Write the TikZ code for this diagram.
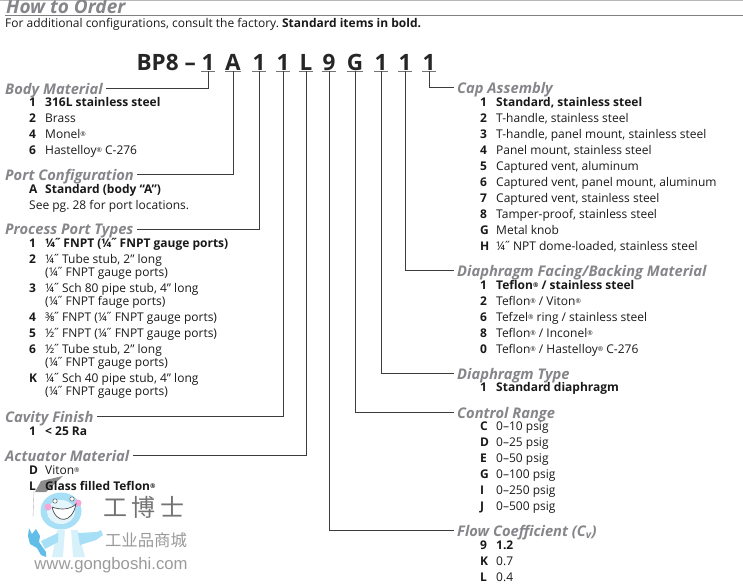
\documentclass[tikz,border=0pt]{standalone}
\usepackage{fontspec}
\setmainfont{Open Sans}
\newfontfamily\cjkfont{Noto Sans CJK SC}
\newfontfamily\urlfont{Liberation Sans}
\usetikzlibrary{positioning}
\frenchspacing

\definecolor{headgray}{HTML}{85858A}
\definecolor{linegray}{HTML}{3C3C3C}
\definecolor{markgray}{HTML}{9A9A9A}
\definecolor{mascotblue}{HTML}{A6DFF6}
\definecolor{wrenchblue}{HTML}{62BEE8}

\newcommand{\rowfont}{\fontsize{12}{13}\selectfont}
\newcommand{\itemkey}[1]{\makebox[16pt][l]{\bfseries #1}}
\newcommand{\regmark}{\raisebox{2.5pt}{\fontsize{6.5}{6.5}\selectfont ®}}
\newcommand{\inchmark}{\kern-1.5pt˝\kern-1pt}

\tikzset{
    row/.style={anchor=west,inner sep=0pt,text height=9.5pt,text depth=0pt,text=black!90,font=\rowfont},
    boldrow/.style={row,font=\rowfont\bfseries},
    nextrow/.style={below=16pt of #1.west,anchor=west},
    wraprow/.style={below=13pt of #1.west,anchor=west},
    head/.style={anchor=west,inner sep=0pt,text height=11pt,text depth=0pt,text=headgray,
        font=\fontsize{14.7}{15}\selectfont\bfseries\itshape},
    codeletter/.style={anchor=south,inner sep=0pt,minimum width=13pt,text height=16pt,text depth=0pt,
        font=\fontsize{22.5}{23}\selectfont\bfseries,text=black!85},
    conn/.style={draw=linegray,line width=0.9pt,shorten >=3pt},
    uline/.style={draw=black!55,line width=1pt}
}

\begin{document}
\begin{tikzpicture}[x=1pt,y=-1pt]
    \useasboundingbox (0,0) rectangle (743,584);

    % page head
    \draw[draw=black!28,line width=1pt] (0,0.5) -- (743,0.5);
    \draw[draw=black!50,line width=1.4pt] (5,15.5) -- (743,15.5);
    \node[anchor=base west,inner sep=0pt,text=headgray,font=\fontsize{19}{19}\selectfont\bfseries\itshape] (title) at (6,13) {How to Order};
    \node[row] (intro) at (5,23) {For additional configurations, consult the factory. \textbf{Standard items in bold.}};

    % mascot, drawn directly
    \fill[black!45] (35,492) -- (41,481) -- (63,476) -- (46,492) -- cycle;
    \draw[black!30,line width=0.4pt] (34,490) -- (33,517);
    \fill[mascotblue] (61,511) ellipse (20.5 and 18.5);
    \fill[mascotblue!30] (61,512) ellipse (14 and 12);
    \fill[mascotblue!45] (57,530) -- (78,530) -- (85,557) -- (52,557) -- cycle;
    \fill[white] (65,530) -- (71,530) -- (73,557) -- (63,557) -- cycle;
    \fill[mascotblue] (58,533) -- (41,541) -- (45,549) -- (58,542) -- cycle;
    \fill[mascotblue] (78,533) -- (97,532) -- (101,530) -- (103,535) -- (96,540) -- (80,545) -- cycle;
    \fill[wrenchblue] (29,528) -- (32,534) -- (36,529) -- (40,536) -- (39,542) -- (46,552) -- (46,557) -- (41,555) -- (37,548) -- (30,544) -- (28,536) -- cycle;
    \draw[black!65,fill=white,line width=0.5pt] (55,501) circle (2.2) (72,499) circle (2.2);
    \fill[magenta!35] (48,507) circle (3.5) (78,503) circle (3.5);
    \draw[black!70,fill=white,line width=0.7pt] (52,507) .. controls (56,524) and (72,524) .. (76,504) .. controls (70,510) and (60,510) .. (52,507);
    \node[inner sep=0pt,text=black!55,font=\cjkfont\fontsize{24}{24}\selectfont] (brand) at (144,507) {工\hspace{5pt}博\hspace{5pt}士};
    \node[inner sep=0pt,text=markgray,font=\cjkfont\fontsize{16.4}{17}\selectfont] (shop) at (146,540) {工业品商城};
    \node[inner sep=0pt,text=markgray,font=\urlfont\fontsize{16.7}{17}\selectfont] (site) at (111,565) {www.gongboshi.com};

    % order code
    \node[anchor=south east,inner sep=0pt,text height=16pt,text depth=0pt,text=black!85,
        font=\fontsize{22.5}{23}\selectfont\bfseries] (code) at (196,71) {BP8 –};
    \node[codeletter] (c1) at (208,71) {1};
    \node[codeletter] (c2) at (233,71) {A};
    \node[codeletter] (c3) at (259,71) {1};
    \node[codeletter] (c4) at (283,71) {1};
    \node[codeletter] (c5) at (306,71) {L};
    \node[codeletter] (c6) at (329,71) {9};
    \node[codeletter] (c7) at (355,71) {G};
    \node[codeletter] (c8) at (381,71) {1};
    \node[codeletter] (c9) at (405,71) {1};
    \node[codeletter] (c10) at (429,71) {1};
    \draw[uline] (c1.south west) -- (c1.south east);
    \draw[uline] (c2.south west) -- (c2.south east);
    \draw[uline] (c3.south west) -- (c3.south east);
    \draw[uline] (c4.south west) -- (c4.south east);
    \draw[uline] (c5.south west) -- (c5.south east);
    \draw[uline] (c6.south west) -- (c6.south east);
    \draw[uline] (c7.south west) -- (c7.south east);
    \draw[uline] (c8.south west) -- (c8.south east);
    \draw[uline] (c9.south west) -- (c9.south east);
    \draw[uline] (c10.south west) -- (c10.south east);

    % left column
    \node[head] (body) at (5,88.5) {Body Material};
    \node[boldrow] (body1) at (29,102) {\itemkey{1}316L stainless steel};
    \node[row,nextrow=body1] (body2) {\itemkey{2}Brass};
    \node[row,nextrow=body2] (body4) {\itemkey{4}Monel\regmark};
    \node[row,nextrow=body4] (body6) {\itemkey{6}Hastelloy\regmark{} C-276};

    \node[head] (port) at (5,174.5) {Port Configuration};
    \node[boldrow] (portA) at (29,189) {\itemkey{A}Standard (body “A”)};
    \node[row,nextrow=portA] (portnote) {See pg. 28 for port locations.};

    \node[head] (ptype) at (5,229) {Process Port Types};
    \node[boldrow] (ptype1) at (29,243) {\itemkey{1}¼\inchmark{} FNPT (¼\inchmark{} FNPT gauge ports)};
    \node[row,nextrow=ptype1] (ptype2) {\itemkey{2}¼\inchmark{} Tube stub, 2” long};
    \node[row,wraprow=ptype2] (ptype2b) {\itemkey{}(¼\inchmark{} FNPT gauge ports)};
    \node[row,nextrow=ptype2b] (ptype3) {\itemkey{3}¼\inchmark{} Sch 80 pipe stub, 4” long};
    \node[row,wraprow=ptype3] (ptype3b) {\itemkey{}(¼\inchmark{} FNPT fauge ports)};
    \node[row,nextrow=ptype3b] (ptype4) {\itemkey{4}⅜\inchmark{} FNPT (¼\inchmark{} FNPT gauge ports)};
    \node[row,nextrow=ptype4] (ptype5) {\itemkey{5}½\inchmark{} FNPT (¼\inchmark{} FNPT gauge ports)};
    \node[row,nextrow=ptype5] (ptype6) {\itemkey{6}½\inchmark{} Tube stub, 2” long};
    \node[row,wraprow=ptype6] (ptype6b) {\itemkey{}(¼\inchmark{} FNPT gauge ports)};
    \node[row,nextrow=ptype6b] (ptypeK) {\itemkey{K}¼\inchmark{} Sch 40 pipe stub, 4” long};
    \node[row,wraprow=ptypeK] (ptypeKb) {\itemkey{}(¼\inchmark{} FNPT gauge ports)};

    \node[head] (cavity) at (5,416.5) {Cavity Finish};
    \node[boldrow] (cavity1) at (29,431) {\itemkey{1}< 25 Ra};

    \node[head] (actuator) at (5,455.5) {Actuator Material};
    \node[row] (actD) at (29,470) {\itemkey{D}Viton\regmark};
    \node[boldrow,nextrow=actD] (actL) {\itemkey{L}Glass filled Teflon\regmark};

    % right column
    \node[head] (cap) at (457,87.5) {Cap Assembly};
    \node[boldrow] (cap1) at (480,102) {\itemkey{1}Standard, stainless steel};
    \node[row,nextrow=cap1] (cap2) {\itemkey{2}T-handle, stainless steel};
    \node[row,nextrow=cap2] (cap3) {\itemkey{3}T-handle, panel mount, stainless steel};
    \node[row,nextrow=cap3] (cap4) {\itemkey{4}Panel mount, stainless steel};
    \node[row,nextrow=cap4] (cap5) {\itemkey{5}Captured vent, aluminum};
    \node[row,nextrow=cap5] (cap6) {\itemkey{6}Captured vent, panel mount, aluminum};
    \node[row,nextrow=cap6] (cap7) {\itemkey{7}Captured vent, stainless steel};
    \node[row,nextrow=cap7] (cap8) {\itemkey{8}Tamper-proof, stainless steel};
    \node[row,nextrow=cap8] (capG) {\itemkey{G}Metal knob};
    \node[row,nextrow=capG] (capH) {\itemkey{H}¼\inchmark{} NPT dome-loaded, stainless steel};

    \node[head] (facing) at (457,270.5) {Diaphragm Facing/Backing Material};
    \node[boldrow] (facing1) at (480,285) {\itemkey{1}Teflon\regmark{} / stainless steel};
    \node[row,nextrow=facing1] (facing2) {\itemkey{2}Teflon\regmark{} / Viton\regmark};
    \node[row,nextrow=facing2] (facing6) {\itemkey{6}Tefzel\regmark{} ring / stainless steel};
    \node[row,nextrow=facing6] (facing8) {\itemkey{8}Teflon\regmark{} / Inconel\regmark};
    \node[row,nextrow=facing8] (facing0) {\itemkey{0}Teflon\regmark{} / Hastelloy\regmark{} C-276};

    \node[head] (dtype) at (457,373.5) {Diaphragm Type};
    \node[boldrow] (dtype1) at (480,387) {\itemkey{1}Standard diaphragm};

    \node[head] (range) at (457,412.5) {Control Range};
    \node[row] (rangeC) at (480,426) {\itemkey{C}0–10 psig};
    \node[row,nextrow=rangeC] (rangeD) {\itemkey{D}0–25 psig};
    \node[row,nextrow=rangeD] (rangeE) {\itemkey{E}0–50 psig};
    \node[row,nextrow=rangeE] (rangeG) {\itemkey{G}0–100 psig};
    \node[row,nextrow=rangeG] (rangeI) {\itemkey{I}0–250 psig};
    \node[row,nextrow=rangeI] (rangeJ) {\itemkey{J}0–500 psig};

    \node[head] (flow) at (457,530.5) {Flow Coefficient (C\textsubscript{v})};
    \node[boldrow] (flow9) at (480,545) {\itemkey{9}1.2};
    \node[row,nextrow=flow9] (flowK) {\itemkey{K}0.7};
    \node[row,nextrow=flowK] (flowL) {\itemkey{L}0.4};

    % connectors
    \draw[conn] (c1.south) |- (body.east);
    \draw[conn] (c2.south) |- (port.east);
    \draw[conn] (c3.south) |- (ptype.east);
    \draw[conn] (c4.south) |- (cavity.east);
    \draw[conn] (c5.south) |- (actuator.east);
    \draw[conn] (c6.south) |- (flow.west);
    \draw[conn] (c7.south) |- (range.west);
    \draw[conn] (c8.south) |- (dtype.west);
    \draw[conn] (c9.south) |- (facing.west);
    \draw[conn] (c10.south) |- (cap.west);
\end{tikzpicture}
\end{document}
